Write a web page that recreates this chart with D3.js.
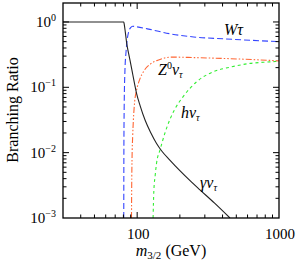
<!DOCTYPE html>
<html><head><meta charset="utf-8">
<script src="https://cdn.jsdelivr.net/npm/d3@7"></script>
<style>body{margin:0;background:#fff}svg{display:block}text{font-family:"Liberation Serif","DejaVu Serif",serif}</style>
</head><body>
<svg id="c" width="299" height="269"></svg>
<script>
// Data (m3/2 in GeV, branching ratio)
const gammaNu = [[30,1],[80.4,1],[81.2,0.9],[82.5,0.7],[84.4,0.47],[87,0.33],[89,0.26],[92,0.18],[95,0.125],[99,0.081],[105,0.052],[114,0.031],[125,0.02],[137,0.0138],[149,0.0106],[170,0.0077],[200,0.0053],[240,0.0036],[277,0.0027],[350,0.0017],[451,0.001]];
const wTau = [[80.45,0.001],[80.6,0.01],[81.0,0.05],[82,0.18],[83.5,0.35],[85,0.53],[87,0.7],[90,0.82],[93,0.86],[100,0.84],[123,0.77],[170,0.66],[250,0.59],[416,0.55],[1000,0.50]];
const zNu = [[91.2,0.001],[91.5,0.003],[92,0.008],[93,0.018],[94,0.031],[96,0.06],[99,0.09],[104,0.13],[112,0.18],[125,0.23],[140,0.26],[175,0.29],[250,0.285],[416,0.276],[1000,0.254]];
const hNu = [[129.5,0.001],[131,0.0025],[134,0.0045],[137,0.0069],[145,0.011],[157,0.02],[170,0.032],[185,0.047],[211,0.072],[262,0.121],[344,0.173],[451,0.203],[624,0.232],[864,0.245],[1000,0.251]];
const xTickLabels = [100, 1000];
const yTickExps = [0, -1, -2, -3];

const svg = d3.select("#c");
const L=63, R=279, T=3, B=218;
const x = d3.scaleLog().domain([30,1000]).range([L,R]);
const y = d3.scaleLog().domain([1e-3,1.95]).range([B,T]);

svg.append("clipPath").attr("id","cp").append("rect").attr("x",L).attr("y",T).attr("width",R-L).attr("height",B-T);

const line = d3.line().x(d=>x(d[0])).y(d=>y(d[1])).curve(d3.curveMonotoneX);
const plot = svg.append("g").attr("clip-path","url(#cp)");
plot.append("path").datum(hNu).attr("d",line).attr("fill","none").attr("stroke","#33ee33").attr("stroke-width",1.1).attr("stroke-dasharray","3,3");
plot.append("path").datum(zNu).attr("d",line).attr("fill","none").attr("stroke","#ff6633").attr("stroke-width",1.1).attr("stroke-dasharray","6,2,1.5,2,1.5,2");
plot.append("path").datum(wTau).attr("d",line).attr("fill","none").attr("stroke","#3344ff").attr("stroke-width",1.1).attr("stroke-dasharray","6,3");
plot.append("path").datum(gammaNu).attr("d",line).attr("fill","none").attr("stroke","#222").attr("stroke-width",1.1);

// ticks
const minorX = [];
[10,100].forEach(d=>{for(let k=1;k<10;k++){const v=d*k; if(v>30&&v<1000) minorX.push(v);} });
const tk = svg.append("g").attr("stroke","#000").attr("stroke-width",1);
minorX.forEach(v=>{
  const major = xTickLabels.includes(v);
  const len = major?6:3.5;
  tk.append("line").attr("x1",x(v)).attr("x2",x(v)).attr("y1",B).attr("y2",B-len);
  tk.append("line").attr("x1",x(v)).attr("x2",x(v)).attr("y1",T).attr("y2",T+len);
});
const minorY=[];
[1e-3,1e-2,1e-1,1].forEach(d=>{for(let k=1;k<10;k++){const v=d*k; if(v>1e-3&&v<1.95) minorY.push([v,k===1]);} });
minorY.forEach(([v,major])=>{
  const len = major?6:3.5;
  tk.append("line").attr("x1",L).attr("x2",L+len).attr("y1",y(v)).attr("y2",y(v));
  tk.append("line").attr("x1",R).attr("x2",R-len).attr("y1",y(v)).attr("y2",y(v));
});
svg.append("rect").attr("x",L).attr("y",T).attr("width",R-L).attr("height",B-T).attr("fill","none").attr("stroke","#000").attr("stroke-width",1.3);

// tick labels
xTickLabels.forEach(v=>{
  svg.append("text").attr("x",x(v)+1).attr("y",239).attr("text-anchor","middle").attr("font-size",15).text(v);
});
yTickExps.forEach(e=>{
  const t = svg.append("text").attr("x",56).attr("y",y(Math.pow(10,e))+5).attr("text-anchor","end").attr("font-size",15);
  t.append("tspan").text("10");
  t.append("tspan").attr("dy",-6).attr("font-size",10).text(e===0?"0":"\u2212"+(-e));
});

// axis titles
const xt = svg.append("text").attr("x",171).attr("y",256).attr("text-anchor","middle").attr("font-size",16);
xt.append("tspan").attr("font-style","italic").text("m");
xt.append("tspan").attr("dy",3).attr("font-size",11).text("3/2");
xt.append("tspan").attr("dy",-3).text(" (GeV)");
svg.append("text").attr("transform","translate(18,110) rotate(-90)").attr("text-anchor","middle").attr("font-size",16).text("Branching Ratio");

// curve labels
function lab(px,py,base,sup,sub){
  const t=svg.append("text").attr("x",px).attr("y",py).attr("font-size",16).attr("font-style","italic");
  t.append("tspan").text(base);
  if(sup){t.append("tspan").attr("dy",-6).attr("font-size",10).attr("font-style","normal").text(sup); t.append("tspan").attr("dy",6).text("ν");}
  if(sub){t.append("tspan").attr("dy",3).attr("font-size",10).text(sub);}
  return t;
}
lab(224,35,"Wτ");
lab(158,75,"Z","0","τ");
lab(181,118,"hν",null,"τ");
lab(200,188,"γν",null,"τ");
</script>
</body></html>
